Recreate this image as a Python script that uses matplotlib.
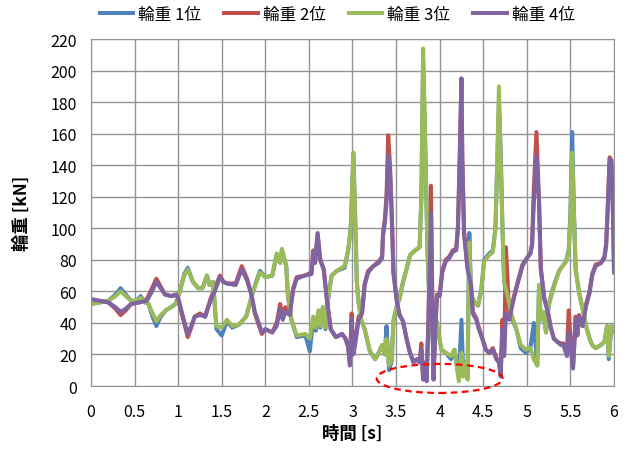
import matplotlib.pyplot as plt
from matplotlib.patches import Ellipse

plt.rcParams['font.family'] = ['Noto Sans CJK JP', 'DejaVu Sans']

# time axis shared by wheel 3 (green) and wheel 1 (blue)
t_a = [0, 0.1, 0.2, 0.28, 0.34, 0.4, 0.46, 0.52, 0.57, 0.62,
       0.66, 0.70, 0.75, 0.8, 0.86, 0.92, 0.97, 1.02, 1.07, 1.11,
       1.17, 1.23, 1.28, 1.33, 1.36, 1.40, 1.44, 1.5, 1.56, 1.62,
       1.7, 1.78, 1.85, 1.9, 1.94, 2.0, 2.08, 2.13, 2.17, 2.19,
       2.24, 2.26, 2.30, 2.36, 2.46, 2.51, 2.55, 2.58, 2.61, 2.63,
       2.66, 2.69, 2.72, 2.76, 2.82, 2.91, 2.95, 2.98, 3.01, 3.03,
       3.05, 3.07, 3.10, 3.14, 3.20, 3.26, 3.30, 3.34, 3.37, 3.39,
       3.42, 3.45, 3.47, 3.51, 3.54, 3.58, 3.62, 3.66, 3.72, 3.77,
       3.79, 3.81, 3.84, 3.86, 3.88, 3.91, 3.93, 3.96, 4.02, 4.07,
       4.13, 4.17, 4.19, 4.22, 4.25, 4.27, 4.30, 4.32, 4.34, 4.36,
       4.40, 4.44, 4.48, 4.51, 4.57, 4.61, 4.64, 4.66, 4.68, 4.70,
       4.72, 4.74, 4.78, 4.82, 4.88, 4.93, 4.99, 5.04, 5.08, 5.12,
       5.14, 5.16, 5.19, 5.22, 5.25, 5.29, 5.33, 5.37, 5.41, 5.45,
       5.48, 5.50, 5.52, 5.54, 5.56, 5.60, 5.64, 5.68, 5.72, 5.75,
       5.79, 5.85, 5.89, 5.92, 5.94, 5.97, 6.0]

load3 = [52, 53, 54, 57, 60, 57, 54, 54, 56, 53,
         52, 47, 41, 45, 48, 50, 52, 60, 70, 74,
         66, 62, 62, 70, 64, 66, 38, 37, 42, 38,
         39, 44, 58, 66, 72, 69, 70, 84, 78, 87,
         76, 57, 42, 32, 33, 30, 44, 37, 48, 38,
         50, 37, 55, 70, 73, 76, 86, 100, 148, 110,
         66, 53, 42, 36, 22, 17, 21, 26, 20, 30,
         13, 17, 42, 51, 55, 66, 74, 83, 86, 88,
         121, 214, 142, 87, 57, 38, 23, 42, 23, 21,
         19, 23, 15, 3, 21, 6, 15, 4, 91, 57,
         53, 51, 62, 79, 83, 85, 100, 142, 190, 142,
         100, 66, 57, 46, 36, 26, 23, 24, 17, 13,
         64, 42, 47, 34, 51, 59, 66, 73, 76, 79,
         85, 106, 148, 110, 74, 59, 49, 38, 30, 26,
         24, 26, 28, 38, 19, 38, 34]

load1 = [52, 53, 54, 58, 62, 58, 54, 54, 57, 53,
         52, 45, 38, 44, 48, 50, 52, 60, 71, 75,
         66, 62, 62, 70, 64, 66, 36, 32, 41, 37,
         39, 44, 58, 67, 73, 69, 70, 83, 78, 86,
         76, 57, 42, 31, 32, 22, 42, 35, 47, 37,
         50, 36, 55, 70, 73, 75, 86, 100, 146, 108,
         66, 53, 42, 36, 22, 17, 21, 26, 20, 38,
         10, 16, 41, 51, 56, 66, 74, 83, 86, 88,
         118, 205, 140, 87, 57, 38, 22, 42, 23, 21,
         17, 23, 15, 6, 42, 8, 15, 6, 97, 58,
         53, 51, 62, 80, 84, 86, 100, 140, 178, 150,
         102, 66, 55, 44, 36, 24, 21, 24, 40, 13,
         64, 42, 47, 34, 51, 60, 67, 73, 76, 79,
         86, 110, 161, 112, 74, 59, 49, 38, 30, 26,
         24, 26, 28, 38, 17, 38, 35]

# time axis shared by wheel 4 (purple) and wheel 2 (red)
t_b = [0, 0.1, 0.2, 0.28, 0.34, 0.4, 0.46, 0.55, 0.64, 0.70,
       0.75, 0.80, 0.85, 0.92, 0.98, 1.0, 1.05, 1.11, 1.15, 1.19,
       1.25, 1.31, 1.37, 1.42, 1.48, 1.52, 1.56, 1.66, 1.73, 1.79,
       1.84, 1.88, 1.96, 2.0, 2.08, 2.13, 2.17, 2.20, 2.23, 2.28,
       2.32, 2.36, 2.45, 2.53, 2.55, 2.57, 2.60, 2.63, 2.67, 2.71,
       2.75, 2.81, 2.88, 2.92, 2.95, 2.97, 2.99, 3.01, 3.03, 3.07,
       3.11, 3.14, 3.18, 3.24, 3.30, 3.34, 3.35, 3.37, 3.39, 3.41,
       3.43, 3.45, 3.47, 3.51, 3.54, 3.58, 3.62, 3.66, 3.70, 3.74,
       3.77, 3.79, 3.81, 3.84, 3.85, 3.87, 3.90, 3.92, 3.93, 3.95,
       3.97, 4.0, 4.03, 4.07, 4.11, 4.15, 4.19, 4.21, 4.23, 4.25,
       4.26, 4.28, 4.32, 4.36, 4.38, 4.42, 4.45, 4.49, 4.53, 4.57,
       4.61, 4.65, 4.68, 4.70, 4.72, 4.74, 4.76, 4.80, 4.84, 4.89,
       4.95, 5.0, 5.04, 5.06, 5.08, 5.11, 5.14, 5.16, 5.20, 5.24,
       5.27, 5.31, 5.35, 5.39, 5.42, 5.46, 5.48, 5.51, 5.53, 5.56,
       5.58, 5.60, 5.64, 5.68, 5.72, 5.75, 5.79, 5.85, 5.89, 5.91,
       5.93, 5.95, 5.97, 5.99, 6.0]

load4 = [55, 54, 53, 50, 47, 49, 52, 53, 54, 60,
         66, 62, 58, 57, 58, 56, 45, 33, 38, 44,
         45, 44, 54, 60, 69, 66, 65, 64, 74, 67,
         58, 47, 34, 36, 34, 38, 49, 42, 47, 45,
         61, 68, 70, 71, 85, 78, 97, 80, 74, 53,
         36, 31, 33, 30, 25, 13, 42, 20, 26, 42,
         46, 64, 72, 76, 78, 81, 95, 103, 116, 146,
         137, 108, 72, 53, 45, 41, 30, 21, 15, 17,
         15, 23, 4, 15, 3, 36, 110, 36, 4, 36,
         57, 57, 72, 79, 81, 85, 86, 100, 142, 195,
         142, 96, 74, 64, 46, 42, 36, 30, 23, 21,
         23, 17, 15, 6, 36, 19, 46, 42, 53, 64,
         76, 81, 84, 89, 116, 146, 116, 74, 55, 47,
         38, 30, 28, 26, 26, 19, 34, 21, 11, 42,
         32, 44, 38, 51, 59, 70, 76, 78, 81, 89,
         114, 144, 142, 106, 72]

load2 = [55, 54, 53, 49, 45, 48, 52, 53, 55, 62,
         68, 63, 58, 57, 58, 55, 44, 31, 37, 44,
         46, 44, 55, 62, 70, 66, 65, 65, 76, 68,
         58, 46, 33, 36, 34, 40, 52, 45, 50, 46,
         62, 69, 70, 72, 86, 78, 96, 80, 74, 53,
         36, 31, 33, 30, 25, 15, 46, 22, 28, 44,
         47, 65, 73, 76, 79, 82, 97, 105, 120, 159,
         140, 110, 72, 53, 45, 41, 30, 21, 15, 17,
         15, 27, 6, 15, 5, 40, 127, 38, 6, 38,
         58, 58, 73, 80, 82, 86, 87, 102, 145, 195,
         145, 98, 75, 64, 47, 43, 37, 30, 23, 21,
         24, 18, 15, 8, 42, 22, 88, 44, 54, 65,
         77, 81, 84, 90, 125, 161, 118, 75, 56, 48,
         38, 30, 28, 27, 27, 20, 48, 22, 12, 44,
         33, 45, 38, 52, 60, 71, 77, 78, 82, 90,
         116, 145, 143, 108, 74]

labels = ['輪重 1位', '輪重 2位', '輪重 3位', '輪重 4位']
colors = ['#4F81BD', '#C0504D', '#9BBB59', '#8064A2']


def main():
    fig = plt.figure(figsize=(6.3, 4.52), dpi=100)
    ax = fig.add_axes([0.1444, 0.1438, 0.8302, 0.7677])

    series = [(t_a, load1), (t_b, load2), (t_a, load3), (t_b, load4)]
    for (t, v), lab, c in zip(series, labels, colors):
        ax.plot(t, v, color=c, lw=2.9, label=lab, solid_joinstyle='round')

    # dashed ellipse marking the near-zero loads
    ell = Ellipse((4.0, 4.8), width=1.445, height=18.4, fill=False,
                  edgecolor='#FF0000', linestyle=(0, (3, 2)), lw=1.6,
                  clip_on=False, zorder=5)
    ax.add_patch(ell)

    ax.set_xlim(0, 6)
    ax.set_ylim(0, 220)
    xt = [i * 0.5 for i in range(13)]
    ax.set_xticks(xt)
    ax.set_xticklabels([f'{x:g}' for x in xt])
    ax.set_yticks(range(0, 221, 20))
    ax.grid(True, color='#949494', lw=1)
    ax.set_axisbelow(True)
    for s in ax.spines.values():
        s.set_color('#949494')
    ax.tick_params(length=0, labelsize=11.5, colors='black')
    ax.tick_params(axis='x', pad=12)
    ax.tick_params(axis='y', pad=10)

    ax.set_xlabel('時間 [s]', fontsize=12.5, fontweight='bold', labelpad=3)
    ax.set_ylabel('輪重 [kN]', fontsize=12.5, fontweight='bold', labelpad=14)

    fig.legend(loc='center', bbox_to_anchor=(0.535, 0.965), ncol=4,
               frameon=False, fontsize=12, handlelength=2.0,
               handletextpad=0.3, columnspacing=1.4)

    fig.savefig('out.png', dpi=100)
    plt.close(fig)


if __name__ == '__main__':
    main()
